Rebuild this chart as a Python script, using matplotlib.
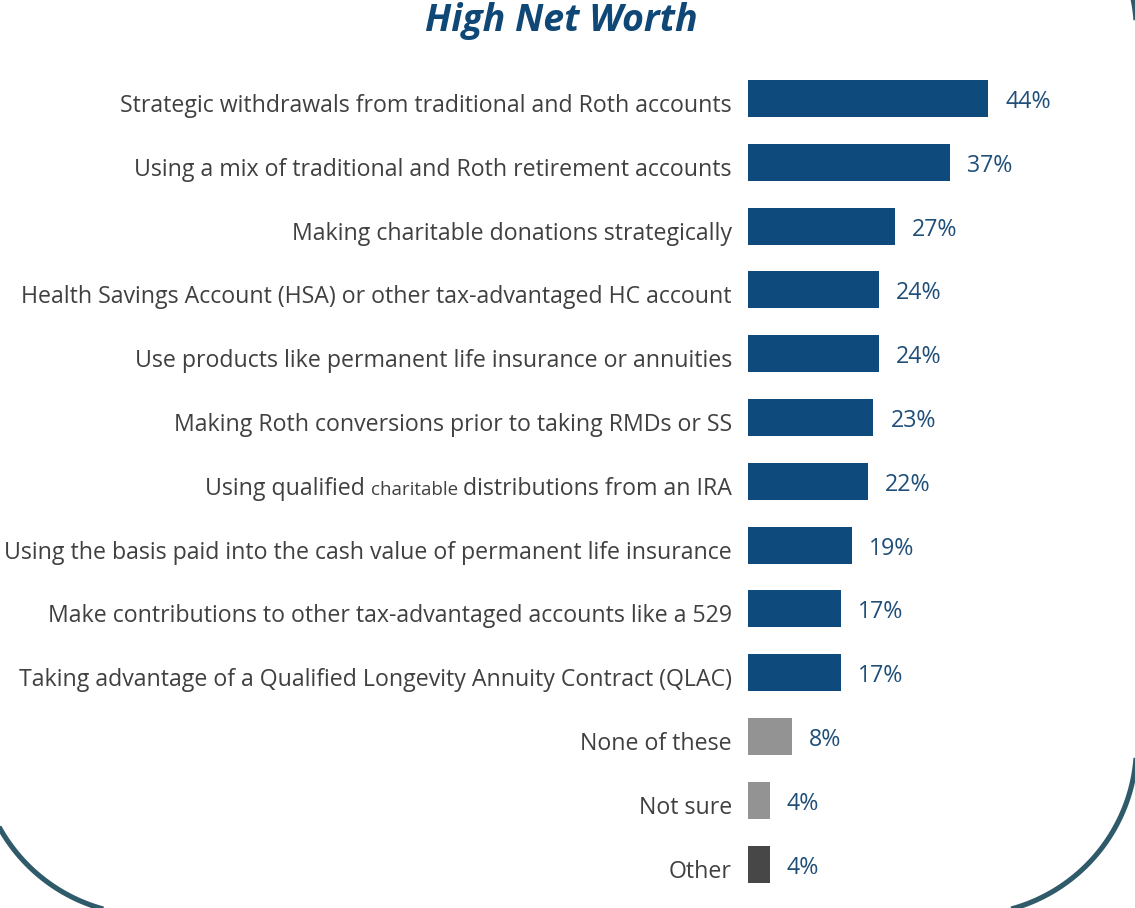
import matplotlib
matplotlib.use("Agg")
import numpy as np
import matplotlib.pyplot as plt

# --- Data ---
categories = [
    "Strategic withdrawals from traditional and Roth accounts",
    "Using a mix of traditional and Roth retirement accounts",
    "Making charitable donations strategically",
    "Health Savings Account (HSA) or other tax-advantaged HC account",
    "Use products like permanent life insurance or annuities",
    "Making Roth conversions prior to taking RMDs or SS",
    "Using qualified charitable distributions from an IRA",
    "Using the basis paid into the cash value of permanent life insurance",
    "Make contributions to other tax-advantaged accounts like a 529",
    "Taking advantage of a Qualified Longevity Annuity Contract (QLAC)",
    "None of these",
    "Not sure",
    "Other",
]
values = [44, 37, 27, 24, 24, 23, 22, 19, 17, 17, 8, 4, 4]
bar_colors = ["#0F4A7C"] * 10 + ["#939393", "#939393", "#474747"]
title = "High Net Worth"
small_word = "charitable"   # rendered smaller in the source label

W, H = 1135, 908
plt.rcParams['font.family'] = ['Open Sans', 'DejaVu Sans']
fig = plt.figure(figsize=(W / 100, H / 100), dpi=100)

# --- rounded panel border (mostly off-canvas), in pixel units ---
bg = fig.add_axes([0, 0, 1, 1])
bg.set_xlim(0, W)
bg.set_ylim(H, 0)
bg.set_axis_off()
x0, x1, y0, y1, r = -22, 1136.5, -137, 915, 170
def arc(cx, cy, a0, a1):
    t = np.radians(np.linspace(a0, a1, 60))
    return cx + r * np.cos(t), cy + r * np.sin(t)
pieces = [arc(x1 - r, y0 + r, -90, 0), arc(x1 - r, y1 - r, 0, 90),
          arc(x0 + r, y1 - r, 90, 180), arc(x0 + r, y0 + r, 180, 270)]
px = np.concatenate([p[0] for p in pieces] + [pieces[0][0][:1]])
py = np.concatenate([p[1] for p in pieces] + [pieces[0][1][:1]])
bg.plot(px, py, color="#2F5A6A", lw=3.7, solid_capstyle="butt")

# --- bar axes placed in pixel coordinates ---
bar_left = 748
px_per_pct = (988 - 748) / 44
first_c, pitch = 98.5, 63.8
n = len(values)
top = first_c - pitch / 2
bottom = first_c + (n - 1) * pitch + pitch / 2
right = 1135
ax = fig.add_axes([bar_left / W, (H - bottom) / H, (right - bar_left) / W, (bottom - top) / H])
ax.set_xlim(0, (right - bar_left) / px_per_pct)
ax.set_ylim(n - 0.5, -0.5)
ax.set_axis_off()

ypos = list(range(n))
ax.barh(ypos, values, height=0.58, color=bar_colors, edgecolor="none")

lab_fs = 16.7
lab_col = "#404040"
renderer = fig.canvas.get_renderer()
for i, (cat, v) in enumerate(zip(categories, values)):
    if small_word in cat and not cat.startswith("Making"):
        # label with one word in a smaller font: build right to left
        head, tail = cat.split(small_word)
        parts = [(tail.strip(), lab_fs), (small_word + " ", lab_fs - 3.2), (head, lab_fs)]
        off = -16
        for txt, fs in parts:
            t = ax.annotate(txt, xy=(0, i), xytext=(off, -13.5), textcoords="offset pixels",
                            ha="right", va="baseline", fontsize=fs, color=lab_col,
                            annotation_clip=False)
            off -= t.get_window_extent(renderer).width
    else:
        ax.annotate(cat, xy=(0, i), xytext=(-16, -13.5), textcoords="offset pixels",
                    ha="right", va="baseline", fontsize=lab_fs, color=lab_col,
                    annotation_clip=False)
    ax.annotate(f"{v}%", xy=(v, i), xytext=(17, -9.5), textcoords="offset pixels",
                ha="left", va="baseline", fontsize=lab_fs, color="#1F4E79",
                annotation_clip=False)

fig.text(561 / W, 1 - 31 / H, title, ha="center", va="baseline", fontsize=27,
         fontweight="bold", fontstyle="italic", color="#0F4777")

fig.savefig("out.png", dpi=100)
